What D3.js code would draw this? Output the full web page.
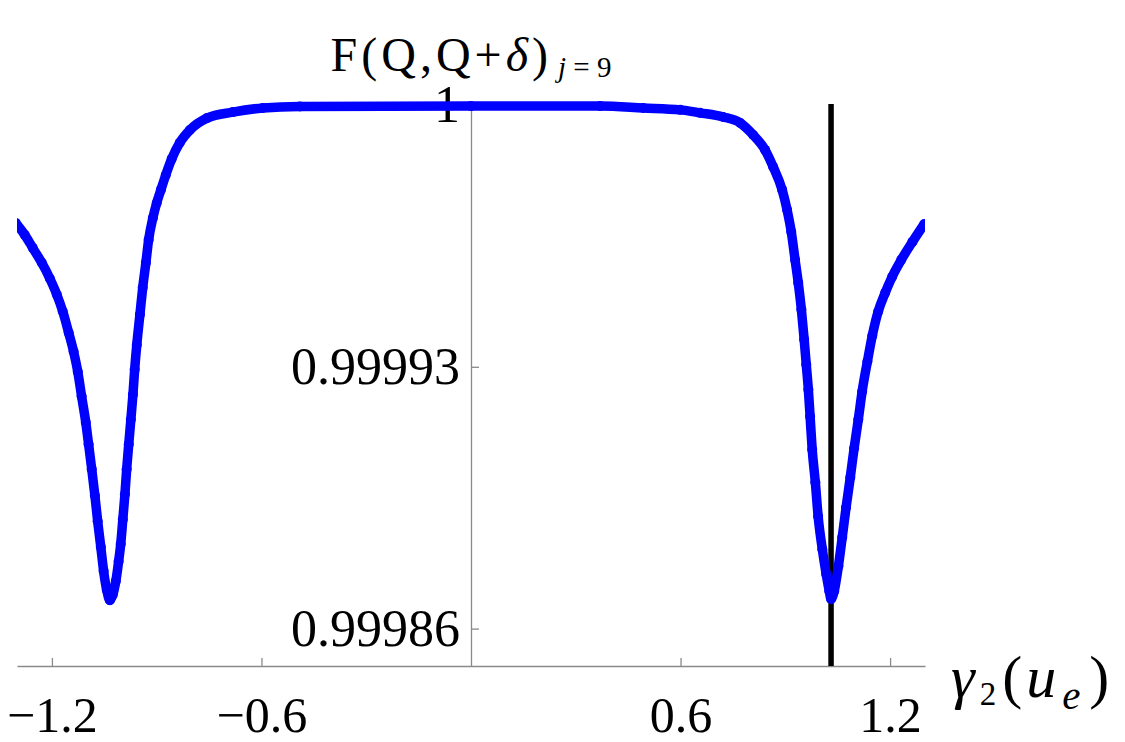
<!DOCTYPE html>
<html>
<head>
<meta charset="utf-8">
<script src="https://cdn.jsdelivr.net/npm/d3@7"></script>
<style>
  body { margin: 0; background: #fff; }
  svg { display: block; }
</style>
</head>
<body>
<svg></svg>
<script>
// size of the page and of the plotting area
var screenWidth = 1125,
    screenHeight = 742,
    margin = {"top": 105, "bottom": 76, "left": 17, "right": 200},
    canvasWidth = screenWidth - margin.left - margin.right,
    canvasHeight = screenHeight - margin.top - margin.bottom;

// F(Q,Q+delta) against gamma_2(u_e)
var curvePoints = [
  [-1.304, 0.9999685], [-1.278, 0.9999653], [-1.255, 0.9999618], [-1.229, 0.9999578],
  [-1.206, 0.9999536], [-1.186, 0.9999493], [-1.169, 0.9999448], [-1.152, 0.9999391],
  [-1.138, 0.9999341], [-1.126, 0.9999287], [-1.115, 0.9999221], [-1.103, 0.9999151],
  [-1.095, 0.9999093], [-1.086, 0.9999026], [-1.077, 0.9998956], [-1.069, 0.9998887],
  [-1.060, 0.9998818], [-1.052, 0.9998754], [-1.043, 0.9998703], [-1.034, 0.9998676],
  [-1.026, 0.9998690], [-1.017, 0.9998727], [-1.009, 0.9998780], [-1.003, 0.9998826],
  [-0.997, 0.9998892], [-0.991, 0.9998959], [-0.986, 0.9999026], [-0.980, 0.9999093],
  [-0.974, 0.9999159], [-0.968, 0.9999226], [-0.963, 0.9999293], [-0.957, 0.9999359],
  [-0.948, 0.9999440], [-0.940, 0.9999512], [-0.931, 0.9999578], [-0.923, 0.9999640],
  [-0.911, 0.9999698], [-0.900, 0.9999738], [-0.888, 0.9999773], [-0.874, 0.9999813],
  [-0.857, 0.9999856], [-0.834, 0.9999899], [-0.805, 0.9999933], [-0.756, 0.9999965],
  [-0.682, 0.9999981], [-0.596, 0.9999992], [-0.490, 0.9999996], [0.000, 0.9999997],
  [0.370, 0.9999997], [0.493, 0.9999992], [0.599, 0.9999987], [0.656, 0.9999979],
  [0.722, 0.9999968], [0.771, 0.9999952], [0.808, 0.9999920], [0.842, 0.9999880],
  [0.865, 0.9999835], [0.891, 0.9999773], [0.905, 0.9999720], [0.917, 0.9999661],
  [0.928, 0.9999586], [0.937, 0.9999525], [0.946, 0.9999453], [0.954, 0.9999373],
  [0.960, 0.9999306], [0.966, 0.9999239], [0.971, 0.9999167], [0.977, 0.9999079],
  [0.986, 0.9998991], [0.994, 0.9998900], [1.006, 0.9998812], [1.017, 0.9998746],
  [1.026, 0.9998700], [1.031, 0.9998679], [1.040, 0.9998700], [1.052, 0.9998767],
  [1.063, 0.9998844], [1.074, 0.9998924], [1.086, 0.9999004], [1.097, 0.9999082],
  [1.109, 0.9999159], [1.120, 0.9999234], [1.135, 0.9999314], [1.149, 0.9999383],
  [1.166, 0.9999448], [1.186, 0.9999498], [1.206, 0.9999541], [1.232, 0.9999586],
  [1.264, 0.9999634], [1.298, 0.9999682]
];

var xDomain = [-1.3, 1.3],
    yDomain = [0.99985, 1];

var xTicks = [-1.2, -0.6, 0.6, 1.2],
    yTicks = [0.99986, 0.99993, 1];

// position of the black vertical marker
var markerGamma = 1.031;

var serif = '"Liberation Serif", "Times New Roman", serif';

var xScale = d3.scaleLinear().domain(xDomain).range([0, canvasWidth]),
    yScale = d3.scaleLinear().domain(yDomain).range([canvasHeight, 0]);

var svg = d3.select('svg')
            .attr('width', screenWidth)
            .attr('height', screenHeight)
            .append('g')
            .attr('transform', 'translate(' + margin.left + ',' + margin.top + ')');

svg.append('clipPath')
   .attr('id', 'plotClip')
   .append('rect')
   .attr('x', 0)
   .attr('y', -20)
   .attr('width', canvasWidth)
   .attr('height', canvasHeight + 40);

// x axis, ticks pointing up
var xAxis = d3.axisBottom(xScale)
              .tickValues(xTicks)
              .tickSizeInner(-8)
              .tickSizeOuter(0)
              .tickPadding(30)
              .tickFormat(d3.format('.1f'));

var gx = svg.append('g')
   .attr('class', 'x axis')
   .attr('transform', 'translate(0,' + canvasHeight + ')')
   .call(xAxis);

// y axis through gamma = 0, ticks pointing right
var yAxis = d3.axisLeft(yScale)
              .tickValues(yTicks)
              .tickSizeInner(-8)
              .tickSizeOuter(0)
              .tickPadding(11)
              .tickFormat(function(d) { return d === 1 ? '1' : d3.format('.5f')(d); });

var gy = svg.append('g')
   .attr('class', 'y axis')
   .attr('transform', 'translate(' + xScale(0) + ',0)')
   .call(yAxis);

[gx, gy].forEach(function(g) {
  g.attr('font-family', serif);
  g.selectAll('path, line').attr('stroke', '#8a8a8a').attr('stroke-width', 1.3);
  g.selectAll('text').attr('fill', '#000');
});
gx.attr('font-size', 50);
gy.attr('font-size', 52);

// black vertical line
svg.append('line')
   .attr('x1', xScale(markerGamma))
   .attr('x2', xScale(markerGamma))
   .attr('y1', yScale(1) - 1)
   .attr('y2', canvasHeight)
   .attr('stroke', '#000')
   .attr('stroke-width', 5.5);

// the blue dotted curve
var curve = d3.line()
              .x(function(d) { return xScale(d[0]); })
              .y(function(d) { return yScale(d[1]); })
              .curve(d3.curveMonotoneX);

var marks = svg.append('g').attr('clip-path', 'url(#plotClip)');

marks.append('path')
     .datum(curvePoints)
     .attr('d', curve)
     .attr('fill', 'none')
     .attr('stroke', '#0000ff')
     .attr('stroke-width', 9.5)
     .attr('stroke-linejoin', 'round');

marks.selectAll('.dot')
     .data(curvePoints)
     .enter().append('circle')
     .attr('class', 'dot')
     .attr('r', 5)
     .attr('cx', function(d) { return xScale(d[0]); })
     .attr('cy', function(d) { return yScale(d[1]); })
     .attr('fill', '#0000ff');

// y axis label on top
var title = svg.append('text')
   .attr('x', xScale(0))
   .attr('y', -34)
   .attr('text-anchor', 'middle')
   .attr('font-family', serif)
   .attr('font-size', 48);
title.append('tspan').attr('letter-spacing', 4).text('F(Q,Q+');
title.append('tspan').attr('font-style', 'italic').attr('letter-spacing', 4).text('\u03B4');
title.append('tspan').text(')');
title.append('tspan').attr('font-size', 29).attr('dy', 6).attr('dx', 10).attr('font-style', 'italic').text('j');
title.append('tspan').attr('font-size', 29).text(' = 9');

// x axis label on the right
var xLabel = svg.append('text')
   .attr('x', canvasWidth + 26)
   .attr('y', canvasHeight + 31)
   .attr('font-family', serif)
   .attr('font-size', 60);
xLabel.append('tspan').attr('font-style', 'italic').text('\u03B3');
xLabel.append('tspan').attr('font-size', 33).attr('dx', 5).attr('dy', 8).text('2');
xLabel.append('tspan').attr('dx', 6).attr('dy', -8).text('(');
xLabel.append('tspan').attr('font-style', 'italic').attr('dx', 4).text('u');
xLabel.append('tspan').attr('font-style', 'italic').attr('font-size', 41).attr('dx', 6).attr('dy', 12).text('e');
xLabel.append('tspan').attr('dx', 9).attr('dy', -12).text(')');
</script>
</body>
</html>
